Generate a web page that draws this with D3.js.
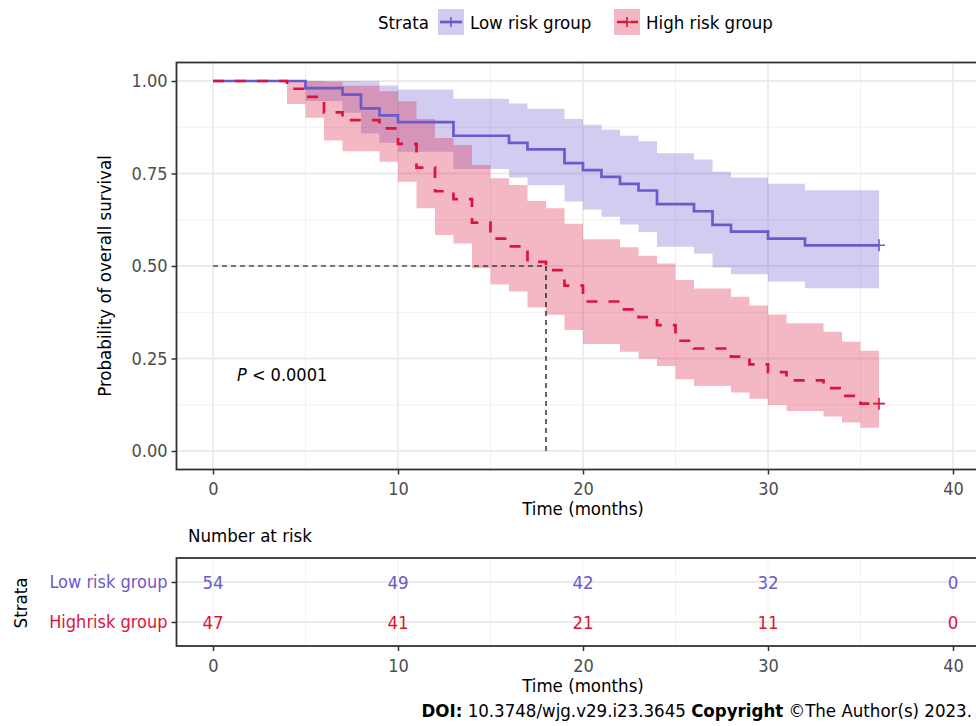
<!DOCTYPE html>
<html>
<head>
<meta charset="utf-8">
<script src="https://cdn.jsdelivr.net/npm/d3@7"></script>
<style>
  body { margin: 0; background: #fff; }
  svg text { font-family: "DejaVu Sans Condensed", "DejaVu Sans", sans-serif; font-stretch: condensed; }
</style>
</head>
<body>
<div id="chart"></div>
<script>
// Kaplan-Meier curves, values
const groups = ['Low risk group', 'High risk group'];
const groupColors = ['#6A5ACD', '#DC143C'];

const lowTime  = [0, 5, 7, 8, 9, 10, 13, 16, 17, 19, 20, 21, 22, 23, 24, 26, 27, 28, 30, 32, 36];
const lowSurv  = [1, .981, .963, .926, .907, .889, .852, .833, .815, .778, .759, .741, .722, .704, .667, .648, .611, .593, .574, .556, .556];
const lowUpper = [1, 1, 1, .999, .988, .977, .952, .939, .925, .897, .882, .868, .852, .837, .805, .788, .755, .739, .722, .705, .705];
const lowLower = [1, .946, .914, .858, .833, .809, .762, .739, .718, .674, .653, .633, .612, .592, .552, .534, .496, .478, .458, .440, .440];

const highTime  = [0, 4, 5, 6, 7, 9, 10, 11, 12, 13, 14, 15, 16, 17, 18, 19, 20, 22, 23, 24, 25, 26, 28, 29, 30, 31, 33, 34, 35, 36];
const highSurv  = [1, .979, .957, .915, .894, .872, .830, .766, .702, .681, .617, .574, .553, .511, .489, .447, .404, .383, .362, .340, .298, .277, .255, .234, .213, .191, .170, .149, .128, .128];
const highUpper = [1, 1, 1, .998, .987, .972, .945, .897, .846, .827, .773, .737, .719, .676, .656, .614, .572, .551, .528, .507, .462, .439, .417, .393, .369, .345, .322, .295, .271, .271];
const highLower = [1, .938, .901, .839, .810, .782, .728, .656, .584, .561, .494, .450, .431, .388, .368, .327, .289, .268, .249, .230, .194, .176, .158, .141, .124, .108, .093, .077, .063, .063];

const medianTime = 18;
const riskTimes = [0, 10, 20, 30, 40];
const lowAtRisk = [54, 49, 42, 32, 0];
const highAtRisk = [47, 41, 21, 11, 0];
const xTicks = [0, 10, 20, 30, 40];
const xMinor = [5, 15, 25, 35];
const yTicks = [0, 0.25, 0.5, 0.75, 1];
const yMinor = [0.125, 0.375, 0.625, 0.875];

const width = 976, height = 726;
const svg = d3.select('#chart').append('svg')
    .attr('width', width)
    .attr('height', height);

const x = d3.scaleLinear().domain([-2, 42]).range([176, 990]);
const y = d3.scaleLinear().domain([-0.05, 1.05]).range([469.5, 62.5]);

const panelTop = 62.5, panelBottom = 469.5, panelLeft = 176.5, panelRight = 990;

// grid
const grid = svg.append('g');
grid.selectAll('.xminor').data(xMinor).enter().append('line')
    .attr('x1', d => x(d)).attr('x2', d => x(d))
    .attr('y1', panelTop).attr('y2', panelBottom)
    .attr('stroke', '#f0f0f0').attr('stroke-width', 1);
grid.selectAll('.yminor').data(yMinor).enter().append('line')
    .attr('x1', panelLeft).attr('x2', panelRight)
    .attr('y1', d => y(d)).attr('y2', d => y(d))
    .attr('stroke', '#f0f0f0').attr('stroke-width', 1);
grid.selectAll('.xmajor').data(xTicks).enter().append('line')
    .attr('x1', d => x(d)).attr('x2', d => x(d))
    .attr('y1', panelTop).attr('y2', panelBottom)
    .attr('stroke', '#ebebeb').attr('stroke-width', 1.8);
grid.selectAll('.ymajor').data(yTicks).enter().append('line')
    .attr('x1', panelLeft).attr('x2', panelRight)
    .attr('y1', d => y(d)).attr('y2', d => y(d))
    .attr('stroke', '#ebebeb').attr('stroke-width', 1.8);

const series = [
    { time: lowTime, surv: lowSurv, upper: lowUpper, lower: lowLower, color: groupColors[0], dash: null },
    { time: highTime, surv: highSurv, upper: highUpper, lower: highLower, color: groupColors[1], dash: '11,11' }
];

const area = d3.area()
    .x(d => x(d.t))
    .y0(d => y(d.lo))
    .y1(d => y(d.hi))
    .curve(d3.curveStepAfter);

const line = d3.line()
    .x(d => x(d.t))
    .y(d => y(d.s))
    .curve(d3.curveStepAfter);

series.forEach(s => {
    const pts = s.time.map((t, i) => ({ t: t, s: s.surv[i], hi: s.upper[i], lo: s.lower[i] }));
    s.pts = pts;
    svg.append('path')
        .datum(pts)
        .attr('d', area)
        .attr('fill', s.color)
        .attr('fill-opacity', 0.3);
});

// median lines
svg.append('path')
    .attr('d', `M${x(0)},${y(0.5)}H${x(medianTime)}V${y(0)}`)
    .attr('fill', 'none')
    .attr('stroke', '#000')
    .attr('stroke-width', 1.2)
    .attr('stroke-dasharray', '5,4');

series.forEach(s => {
    svg.append('path')
        .datum(s.pts)
        .attr('d', line)
        .attr('fill', 'none')
        .attr('stroke', s.color)
        .attr('stroke-width', 2.7)
        .attr('stroke-dasharray', s.dash);
    const last = s.pts[s.pts.length - 1];
    const cx = x(last.t), cy = y(last.s);
    svg.append('path')
        .attr('d', `M${cx - 6},${cy}H${cx + 6}M${cx},${cy - 6}V${cy + 6}`)
        .attr('stroke', s.color)
        .attr('stroke-width', 1.6);
});

// panel border
svg.append('rect')
    .attr('x', panelLeft).attr('y', panelTop)
    .attr('width', panelRight - panelLeft).attr('height', panelBottom - panelTop)
    .attr('fill', 'none').attr('stroke', '#333').attr('stroke-width', 1.8);

// axes
const xAxis = svg.append('g')
    .attr('transform', `translate(0,${panelBottom})`)
    .call(d3.axisBottom(x).tickValues(xTicks).tickSize(5).tickPadding(7.5).tickFormat(d3.format('d')));
const yAxis = svg.append('g')
    .attr('transform', `translate(${panelLeft},0)`)
    .call(d3.axisLeft(y).tickValues(yTicks).tickSize(5).tickPadding(4).tickFormat(d3.format('.2f')));
[xAxis, yAxis].forEach(a => {
    a.select('.domain').remove();
    a.selectAll('.tick line').attr('stroke', '#333').attr('stroke-width', 1.5);
    a.selectAll('.tick text').attr('fill', '#4d4d4d').style('font-size', '18px');
});

svg.append('text')
    .attr('x', x(20)).attr('y', 515)
    .attr('text-anchor', 'middle')
    .style('font-size', '18.5px')
    .text('Time (months)');

svg.append('text')
    .attr('transform', `translate(111,${(panelTop + panelBottom) / 2 + 10}) rotate(-90)`)
    .attr('text-anchor', 'middle')
    .style('font-size', '18.5px')
    .text('Probability of overall survival');

const pText = svg.append('text')
    .attr('x', 237).attr('y', 381)
    .style('font-size', '18px');
pText.append('tspan').style('font-style', 'italic').text('P');
pText.append('tspan').text(' < 0.0001');

// legend
const legend = svg.append('g');
legend.append('text')
    .attr('x', 378).attr('y', 29)
    .style('font-size', '18.5px')
    .text('Strata');
const legendX = [438, 614];
groups.forEach((g, i) => {
    const lx = legendX[i];
    legend.append('rect')
        .attr('x', lx).attr('y', 9).attr('width', 26).attr('height', 26)
        .attr('fill', groupColors[i]).attr('fill-opacity', 0.3);
    legend.append('line')
        .attr('x1', i === 0 ? lx + 2 : lx + 3).attr('x2', lx + 24)
        .attr('y1', 22).attr('y2', 22)
        .attr('stroke', groupColors[i]).attr('stroke-width', 2.7)
        .attr('stroke-dasharray', i === 0 ? null : '11,3');
    legend.append('path')
        .attr('d', `M${lx + 8},22H${lx + 18}M${lx + 13},17V27`)
        .attr('stroke', groupColors[i]).attr('stroke-width', 1.6);
    legend.append('text')
        .attr('x', lx + 32).attr('y', 29)
        .style('font-size', '18.5px')
        .text(g);
});

// risk table
const tTop = 558, tBottom = 646;
const yRow = d3.scalePoint().domain(groups).range([582, 622]);
const tGrid = svg.append('g');
tGrid.selectAll('.tx').data(xMinor.concat(xTicks)).enter().append('line')
    .attr('x1', d => x(d)).attr('x2', d => x(d))
    .attr('y1', tTop).attr('y2', tBottom)
    .attr('stroke', '#f2f2f2').attr('stroke-width', 1);
tGrid.selectAll('.ty').data(groups).enter().append('line')
    .attr('x1', panelLeft).attr('x2', panelRight)
    .attr('y1', d => yRow(d)).attr('y2', d => yRow(d))
    .attr('stroke', '#ebebeb').attr('stroke-width', 1.8);

svg.append('rect')
    .attr('x', panelLeft).attr('y', tTop)
    .attr('width', panelRight - panelLeft).attr('height', tBottom - tTop)
    .attr('fill', 'none').attr('stroke', '#333').attr('stroke-width', 1.8);

const riskRows = [lowAtRisk, highAtRisk];
riskRows.forEach((row, i) => {
    svg.selectAll(null).data(row).enter().append('text')
        .attr('x', (d, j) => x(riskTimes[j]))
        .attr('y', yRow(groups[i]) + 6.5)
        .attr('text-anchor', 'middle')
        .attr('fill', groupColors[i])
        .style('font-size', '18.5px')
        .text(d => d);
});

const rowLabels = ['Low risk group', 'Highrisk group'];
const tyAxis = svg.append('g')
    .attr('transform', `translate(${panelLeft},0)`)
    .call(d3.axisLeft(yRow).tickSize(5).tickPadding(4).tickFormat((d, i) => rowLabels[i]));
tyAxis.select('.domain').remove();
tyAxis.selectAll('.tick line').attr('stroke', '#333').attr('stroke-width', 1.5);
tyAxis.selectAll('.tick text')
    .attr('fill', (d, i) => groupColors[i])
    .style('font-size', '18px');

const txAxis = svg.append('g')
    .attr('transform', `translate(0,${tBottom})`)
    .call(d3.axisBottom(x).tickValues(xTicks).tickSize(5).tickPadding(8).tickFormat(d3.format('d')));
txAxis.select('.domain').remove();
txAxis.selectAll('.tick line').attr('stroke', '#333').attr('stroke-width', 1.5);
txAxis.selectAll('.tick text').attr('fill', '#4d4d4d').style('font-size', '18px');

svg.append('text')
    .attr('x', x(20)).attr('y', 692)
    .attr('text-anchor', 'middle')
    .style('font-size', '18.5px')
    .text('Time (months)');

svg.append('text')
    .attr('x', 188).attr('y', 542)
    .style('font-size', '18.5px')
    .text('Number at risk');

svg.append('text')
    .attr('transform', `translate(27,603) rotate(-90)`)
    .attr('text-anchor', 'middle')
    .style('font-size', '18.5px')
    .text('Strata');

// source line
const doi = svg.append('text')
    .attr('x', 972).attr('y', 717)
    .attr('text-anchor', 'end')
    .style('font-size', '18.5px');
doi.append('tspan').style('font-weight', 'bold').text('DOI:');
doi.append('tspan').text(' 10.3748/wjg.v29.i23.3645 ');
doi.append('tspan').style('font-weight', 'bold').text('Copyright');
doi.append('tspan').text(' \u00A9The Author(s) 2023.');
</script>
</body>
</html>
